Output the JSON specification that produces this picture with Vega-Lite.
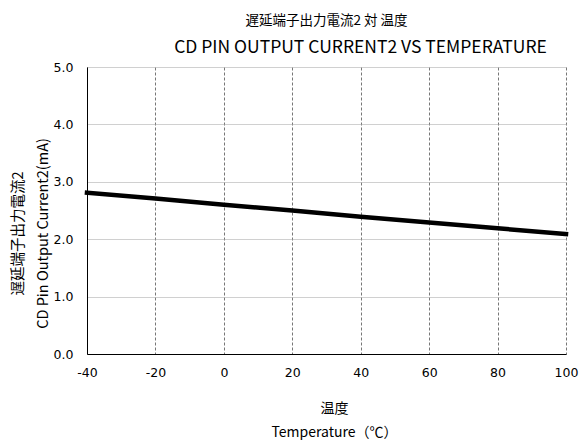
{
  "$schema": "https://vega.github.io/schema/vega-lite/v6.json",
  "autosize": "none",
  "width": 479,
  "height": 287,
  "padding": {"left": 87, "top": 67, "right": 20, "bottom": 86},
  "background": "white",
  "title": {
    "text": "遅延端子出力電流2  対  温度",
    "font": "Noto Sans CJK JP",
    "fontSize": 13.5,
    "fontWeight": "normal",
    "color": "black",
    "anchor": "middle",
    "offset": 11
  },
  "data": {
    "values": [
      {"temp": -40, "current": 2.81},
      {"temp": -20, "current": 2.71},
      {"temp": 0, "current": 2.6},
      {"temp": 20, "current": 2.5},
      {"temp": 40, "current": 2.39},
      {"temp": 60, "current": 2.29},
      {"temp": 80, "current": 2.19},
      {"temp": 100, "current": 2.09}
    ]
  },
  "config": {
    "view": {"stroke": null},
    "axis": {
      "titleFont": "Noto Sans CJK JP",
      "titleFontWeight": "normal",
      "titleColor": "black",
      "domainColor": "black",
      "domainWidth": 1,
      "ticks": false
    }
  },
  "layer": [
    {
      "mark": {"type": "line", "color": "black", "strokeWidth": 4.5, "strokeCap": "square"},
      "encoding": {
        "x": {
          "field": "temp",
          "type": "quantitative",
          "scale": {"domain": [-40, 100], "nice": false, "zero": false},
          "axis": {
            "orient": "bottom",
            "values": [-40, -20, 0, 20, 40, 60, 80, 100],
            "labelExpr": "'' + datum.value",
            "labelFont": "DejaVu Sans",
            "labelFontSize": 12.5,
            "labelFontWeight": "normal",
            "labelColor": "black",
            "labelPadding": 12,
            "labelFlush": false,
            "grid": true,
            "gridColor": "#777777",
            "gridDash": [3, 2],
            "gridWidth": 1,
            "title": ["温度", "Temperature（℃）"],
            "titleFontSize": 14,
            "titleLineHeight": 24,
            "titleX": 247,
            "titleY": 54,
            "titleBaseline": "middle",
            "titleAlign": "center"
          }
        },
        "y": {
          "field": "current",
          "type": "quantitative",
          "scale": {"domain": [0, 5], "nice": false},
          "axis": {
            "values": [0, 1, 2, 3, 4, 5],
            "format": ".1f",
            "labelFont": "DejaVu Sans",
            "labelFontSize": 12.5,
            "labelFontWeight": "normal",
            "labelColor": "black",
            "labelPadding": 14,
            "labelFlush": false,
            "grid": true,
            "gridColor": "#a0a0a0",
            "gridDash": [1, 1],
            "gridWidth": 1,
            "title": ["遅延端子出力電流2", "CD Pin Output Current2(mA)"],
            "titleFontSize": 14.5,
            "titleLineHeight": 25,
            "titleAngle": -90,
            "titleX": -69,
            "titleY": 166,
            "titleBaseline": "middle",
            "titleAlign": "center"
          }
        }
      }
    },
    {
      "mark": {"type": "line", "strokeOpacity": 0},
      "encoding": {
        "x": {
          "field": "temp",
          "type": "quantitative",
          "axis": {
            "orient": "top",
            "labels": false,
            "domain": false,
            "grid": false,
            "title": "CD PIN OUTPUT CURRENT2 VS TEMPERATURE",
            "titleFont": "Noto Sans CJK JP",
            "titleFontSize": 17.5,
            "titleX": 273,
            "titleY": -20,
            "titleBaseline": "middle",
            "titleAlign": "center"
          }
        }
      }
    }
  ],
  "resolve": {"axis": {"x": "independent"}}
}
